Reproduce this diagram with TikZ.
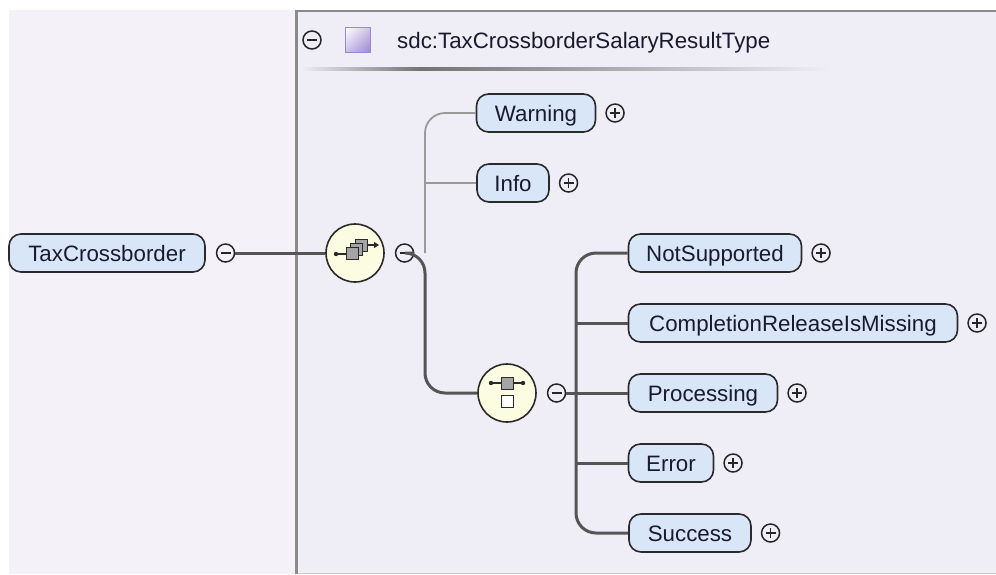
\documentclass[tikz,border=0pt]{standalone}
\usepackage{fontspec}
\setmainfont{Liberation Sans}
\usetikzlibrary{positioning,calc,arrows.meta,shadings}
\definecolor{leftbg}{HTML}{F4F2F8}
\definecolor{rightbg}{HTML}{EFEDF6}
\definecolor{framecol}{HTML}{8A8A8A}
\definecolor{nodefill}{HTML}{D9E6F8}
\definecolor{nodeborder}{HTML}{2A2A2A}
\definecolor{textcol}{HTML}{1A1A2E}
\definecolor{connthick}{HTML}{555555}
\definecolor{connthin}{HTML}{9A9A9A}
\definecolor{compfill}{HTML}{FCFCE3}
\definecolor{iconfill}{HTML}{A4A4A4}
\definecolor{sqborder}{HTML}{9C88CC}
\definecolor{sqdark}{HTML}{9A86CC}
\definecolor{sqmid}{HTML}{CBC1E8}
\begin{document}
\begin{tikzpicture}[x=1pt,y=-1pt,
  elem/.style={draw=nodeborder, line width=1.6pt, fill=nodefill, rounded corners=12pt,
    minimum height=38pt, inner sep=0pt, text height=16pt, text depth=0pt,
    font=\fontsize{22.3}{26}\selectfont, text=textcol},
  pm/.style={circle, draw=black!85, line width=1.5pt, minimum size=18pt, inner sep=0pt},
  minussign/.style={pm, path picture={\draw[line width=1.5pt,black!85]
      ([xshift=-5pt]path picture bounding box.center) -- ([xshift=5pt]path picture bounding box.center);}},
  plussign/.style={pm, path picture={\draw[line width=1.5pt,black!85]
      ([xshift=-5pt]path picture bounding box.center) -- ([xshift=5pt]path picture bounding box.center)
      ([yshift=-5pt]path picture bounding box.center) -- ([yshift=5pt]path picture bounding box.center);}},
  comp/.style={circle, draw=nodeborder, line width=1.6pt, fill=compfill, minimum size=58pt, inner sep=0pt},
  conn/.style={draw=connthick, line width=3pt},
  optconn/.style={draw=connthin, line width=1.8pt},
  iconsq/.style={draw=nodeborder, line width=1pt, fill=iconfill},
]
\useasboundingbox (0,0) rectangle (996,574);
\fill[white] (0,0) rectangle (996,574);
\fill[leftbg] (9,10) rectangle (296,574);
\fill[rightbg] (296,10) rectangle (996,574);
\draw[framecol, line width=3pt] (296.5,10) -- (296.5,574);
\draw[framecol, line width=2pt] (295,11) -- (996,11);
\draw[gray!40, line width=1.5pt] (298,573.3) -- (996,573.3);

% header
\node[minussign] (mhead) at (312,40) {};
\node[draw=sqborder, line width=1.5pt, minimum size=25pt, inner sep=0pt,
  upper left=white, upper right=sqmid, lower left=sqmid, lower right=sqdark] (hsq) at (358,40) {};
\node[anchor=west, inner sep=0pt, text height=16pt, text depth=0pt,
  font=\fontsize{22.3}{26}\selectfont, text=textcol] (htitle) at (397,40) {sdc:TaxCrossborderSalaryResultType};
\shade[left color=rightbg, right color=black!55] (300,67) rectangle (420,70);
\shade[left color=black!55, right color=rightbg] (420,67) rectangle (830,70);

% root
\node[elem, minimum width=196pt] (tax) at (107,253) {TaxCrossborder};
\node[minussign, right=10pt of tax] (mtax) {};

% sequence compositor
\node[comp] (seq) at (355,253) {};
\begin{scope}[shift={(seq.center)}]
  \draw[nodeborder, line width=1.2pt] (-19,1) -- (-9,1);
  \fill[nodeborder] (-19,1) circle (2.2pt);
  \draw[nodeborder, line width=1.2pt, -{Triangle[length=5pt,width=6pt]}] (12,-8) -- (24,-8);
  \draw[iconsq] (0,-14) rectangle (12,-2);
  \draw[iconsq] (-4.5,-10) rectangle (7.5,2);
  \draw[iconsq] (-9,-6) rectangle (3,6);
\end{scope}
\node[minussign, right=10pt of seq] (mseq) {};

% optional children
\node[elem, minimum width=119pt] (warn) at (536,113) {Warning};
\node[plussign, right=9pt of warn] (pwarn) {};
\node[elem, minimum width=72pt] (info) at (513,183) {Info};
\node[plussign, right=9pt of info] (pinfo) {};

% choice compositor
\node[comp] (ch) at (507,393) {};
\begin{scope}[shift={(ch.center)}]
  \draw[nodeborder, line width=1.2pt] (-16,-10) -- (16,-10);
  \fill[nodeborder] (-16,-10) circle (2.2pt) (16,-10) circle (2.2pt);
  \draw[iconsq] (-6,-16) rectangle (6,-4);
  \draw[nodeborder, line width=1pt, fill=white] (-6,2) rectangle (6,14);
\end{scope}
\node[minussign, right=10pt of ch] (mch) {};

% choice children
\node[elem, minimum width=173pt] (ns) at (715,253) {NotSupported};
\node[plussign, right=9pt of ns] (pns) {};
\node[elem, minimum width=329pt] (crm) at (793,323) {CompletionReleaseIsMissing};
\node[plussign, right=9pt of crm] (pcrm) {};
\node[elem, minimum width=149pt] (proc) at (703,393) {Processing};
\node[plussign, right=9pt of proc] (pproc) {};
\node[elem, minimum width=85pt] (err) at (671,463) {Error};
\node[plussign, right=9pt of err] (perr) {};
\node[elem, minimum width=122pt] (succ) at (690,533) {Success};
\node[plussign, right=9pt of succ] (psucc) {};

% connectors
\coordinate (j1) at (425,253);
\coordinate (j2) at (576,393);
\draw[optconn, rounded corners=20pt] (j1) |- (warn.west);
\draw[optconn] (j1 |- info.west) -- (info.west);
\draw[conn] (mtax) -- (seq);
\draw[conn, rounded corners=20pt] (mseq.east) -- (j1) |- (ch.west);
\draw[conn] (mch.east) -- (j2);
\draw[conn, rounded corners=20pt] (j2) |- (ns.west);
\draw[conn, rounded corners=20pt] (j2) |- (succ.west);
\draw[conn] (j2 |- crm.west) -- (crm.west);
\draw[conn] (j2) -- (proc.west);
\draw[conn] (j2 |- err.west) -- (err.west);
\end{tikzpicture}
\end{document}
